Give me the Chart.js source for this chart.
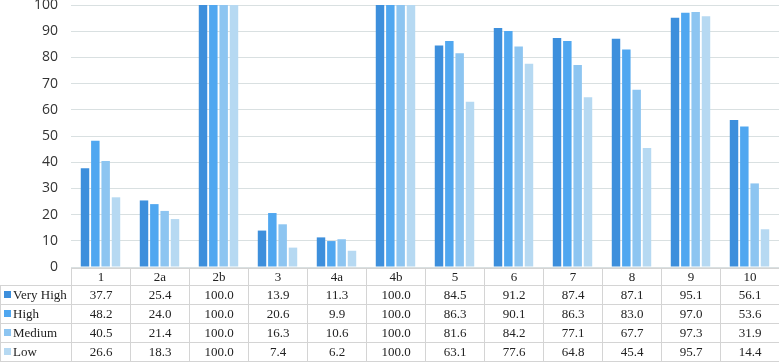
<!DOCTYPE html>
<html>
<head>
    <title>Risk level by item</title>
    <style>
        body {
            margin: 0;
            background: #ffffff;
        }
        #wrap {
            position: relative;
            width: 779px;
            height: 362px;
            overflow: hidden;
        }
        #chart-box {
            position: absolute;
            left: 0;
            top: 0;
            width: 779px;
            height: 362px;
        }
        table {
            position: absolute;
            left: 0;
            top: 268px;
            border-collapse: collapse;
            table-layout: fixed;
            font-family: 'Liberation Serif', 'Times New Roman', serif;
            font-size: 13px;
            color: #222;
        }
        tr {
            height: 19px;
        }
        tr.head {
            height: 17px;
        }
        td {
            border: 1px solid #d4d4d4;
            padding: 0;
            line-height: 14px;
            text-align: center;
            white-space: nowrap;
        }
        td.name {
            text-align: left;
            padding-left: 3px;
        }
        td.corner {
            border-top: none;
            border-left: none;
        }
        .key {
            display: inline-block;
            width: 7px;
            height: 7px;
            margin-right: 2px;
            vertical-align: 1px;
        }
    </style>
    <script src="https://cdn.jsdelivr.net/npm/chart.js"></script>
</head>
<body>
<div id="wrap">
    <div id="chart-box"><canvas id="riskChart"></canvas></div>
    <table id="data-table"></table>
</div>
<script>
    const categories = ['1', '2a', '2b', '3', '4a', '4b', '5', '6', '7', '8', '9', '10'];
    const seriesNames = ['Very High', 'High', 'Medium', 'Low'];
    const veryHigh = [37.7, 25.4, 100.0, 13.9, 11.3, 100.0, 84.5, 91.2, 87.4, 87.1, 95.1, 56.1];
    const high = [48.2, 24.0, 100.0, 20.6, 9.9, 100.0, 86.3, 90.1, 86.3, 83.0, 97.0, 53.6];
    const medium = [40.5, 21.4, 100.0, 16.3, 10.6, 100.0, 81.6, 84.2, 77.1, 67.7, 97.3, 31.9];
    const low = [26.6, 18.3, 100.0, 7.4, 6.2, 100.0, 63.1, 77.6, 64.8, 45.4, 95.7, 14.4];
    const colors = ['#3d8fdc', '#50a7f0', '#8dc5f1', '#b6d9f2'];

    const allSeries = [veryHigh, high, medium, low];

    const ctx = document.getElementById('riskChart').getContext('2d');
    const chart = new Chart(ctx, {
        type: 'bar',
        data: {
            labels: categories,
            datasets: allSeries.map((values, i) => ({
                label: seriesNames[i],
                data: values,
                backgroundColor: colors[i],
                borderWidth: 0,
                categoryPercentage: 0.7,
                barPercentage: 0.82
            }))
        },
        options: {
            responsive: true,
            maintainAspectRatio: false,
            animation: false,
            layout: {
                padding: { top: 5, right: 0, bottom: 95, left: 0 }
            },
            plugins: {
                legend: { display: false },
                tooltip: { enabled: false }
            },
            scales: {
                x: {
                    display: false
                },
                y: {
                    min: 0,
                    max: 100,
                    border: { display: false },
                    grid: {
                        color: '#d9e0e1',
                        lineWidth: 1,
                        drawTicks: false
                    },
                    ticks: {
                        stepSize: 10,
                        color: '#333',
                        padding: 13,
                        font: { family: "'Open Sans', sans-serif", size: 14 }
                    },
                    afterFit: function(scale) {
                        scale.width = 71;
                        scale.paddingTop = 0;
                        scale.paddingBottom = 0;
                    }
                }
            }
        }
    });

    // data table under the plot, one column per category
    function buildTable() {
        const table = document.getElementById('data-table');
        const colWidth = (chart.chartArea.right - chart.chartArea.left) / categories.length;
        const firstWidth = chart.chartArea.left;

        let html = '<colgroup><col style="width:' + firstWidth + 'px">';
        categories.forEach(() => {
            html += '<col style="width:' + colWidth + 'px">';
        });
        html += '</colgroup>';

        html += '<tr class="head"><td class="corner"></td>';
        categories.forEach(c => {
            html += '<td>' + c + '</td>';
        });
        html += '</tr>';

        allSeries.forEach((values, i) => {
            html += '<tr><td class="name"><span class="key" style="background:' + colors[i] + '"></span>' + seriesNames[i] + '</td>';
            values.forEach(v => {
                html += '<td>' + v.toFixed(1) + '</td>';
            });
            html += '</tr>';
        });
        table.innerHTML = html;
        table.style.width = (firstWidth + colWidth * categories.length) + 'px';
        table.style.top = (Math.round(chart.chartArea.bottom) + 1) + 'px';
    }
    buildTable();
</script>
</body>
</html>
